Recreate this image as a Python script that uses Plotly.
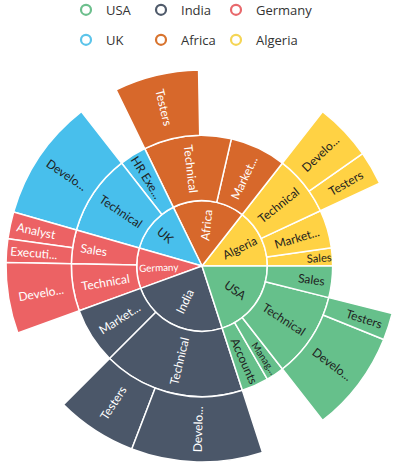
import plotly.graph_objects as go

# ---------------- data (clockwise order from 3 o'clock) ----------------
countries = ["USA", "India", "Germany", "UK", "Africa", "Algeria"]
country_values = [72, 88, 36, 48, 64, 52]

jobs = ["Sales", "Technical", "Manag...", "Accounts",
        "Technical", "Market...",
        "Technical", "Sales",
        "Technical", "HR Exe...",
        "Technical", "Market...",
        "Technical", "Market...", "Sales"]
job_country = ["USA"] * 4 + ["India"] * 2 + ["Germany"] * 2 + ["UK"] * 2 + ["Africa"] * 2 + ["Algeria"] * 3
job_values = [14, 38, 8, 12,
              63, 25,
              21, 15,
              36, 12,
              39, 25,
              27, 17, 8]

groups = ["Testers", "Develo...",
          "Develo...", "Testers",
          "Develo...",
          "Executi...", "Analyst",
          "Develo...",
          "Testers",
          "Develo...", "Testers"]
group_parent = ["USA/Technical", "USA/Technical",
                "India/Technical", "India/Technical",
                "Germany/Technical",
                "Germany/Sales", "Germany/Sales",
                "UK/Technical",
                "Africa/Technical",
                "Algeria/Technical", "Algeria/Technical"]
group_values = [8, 30,
                39, 24,
                21,
                7, 8,
                36,
                25,
                17, 10]

# ---------------- styles ----------------
fill = {"USA": "#66C08B", "India": "#4B5769", "Germany": "#EC6264",
        "UK": "#48BFEC", "Africa": "#D7682B", "Algeria": "#FFD244"}
legend_col = {"USA": "#6DBF8D", "India": "#505B6B", "Germany": "#E8696C",
              "UK": "#5CC4EA", "Africa": "#D8742F", "Algeria": "#F5D555"}
text_col = {"USA": "#1E1E1E", "India": "#FFFFFF", "Germany": "#FFFFFF",
            "UK": "#1E1E1E", "Africa": "#FFFFFF", "Algeria": "#1E1E1E"}

# nodes in clockwise order
nodes = []  # (id, label, parent, value, country)
for c, v in zip(countries, country_values):
    nodes.append((c, c, "", v, c))
    for j, jc, jv in zip(jobs, job_country, job_values):
        if jc != c:
            continue
        jid = c + "/" + j
        nodes.append((jid, j, c, jv, c))
        for g, gp, gv in zip(groups, group_parent, group_values):
            if gp == jid:
                nodes.append((jid + "/" + g, g, jid, gv, c))

# plotly sunburst runs counterclockwise -> reverse sibling order
nodes = nodes[::-1]
# unfilled remainder of a parent lies at its clockwise end = counterclockwise start
fillers = []
for nid, lab, par, val, c in nodes:
    kids = sum(n[3] for n in nodes if n[2] == nid)
    if kids and kids < val:
        fillers.append((nid + "/gap", "", nid, val - kids, None))
nodes = fillers + nodes

ids = [n[0] for n in nodes]
labels = [n[1] for n in nodes]
parents = [n[2] for n in nodes]
values = [n[3] for n in nodes]
colors = [fill[n[4]] if n[4] else "rgba(0,0,0,0)" for n in nodes]
tcolors = [text_col[n[4]] if n[4] else "rgba(0,0,0,0)" for n in nodes]
lwidths = [1.5 if n[4] else 0 for n in nodes]

fig = go.Figure()
fig.add_trace(go.Sunburst(
    ids=ids, labels=labels, parents=parents, values=values,
    branchvalues="total", sort=False, rotation=0,
    marker=dict(colors=colors, line=dict(color="white", width=lwidths)),
    leaf=dict(opacity=1),
    insidetextorientation="radial",
    insidetextfont=dict(color=tcolors, size=12, family="Lato"),
    hoverinfo="label+value",
    domain=dict(x=[0.015, 0.995], y=[0.0149, 0.8507]),
))

for i, c in enumerate(countries):
    fig.add_trace(go.Scatter(
        x=[None], y=[None], mode="markers", name=c,
        marker=dict(symbol="circle-open", size=10, color=legend_col[c], line=dict(width=2.2)),
        legend="legend" if i < 3 else "legend2", showlegend=True,
    ))
for lg in ["legend", "legend2"]:
    fig.add_trace(go.Scatter(
        x=[None], y=[None], mode="markers", name=" ",
        marker=dict(size=1, color="rgba(0,0,0,0)"),
        legend=lg, showlegend=True, hoverinfo="skip",
    ))

leg = dict(orientation="h", xanchor="left", yanchor="top", entrywidth=30,
           font=dict(family="Open Sans", size=13, color="#333333"),
           bgcolor="rgba(0,0,0,0)", itemwidth=30)
fig.update_layout(
    width=400, height=469, margin=dict(l=0, r=0, t=0, b=0, autoexpand=False),
    paper_bgcolor="white", plot_bgcolor="white",
    xaxis=dict(visible=False), yaxis=dict(visible=False),
    legend=dict(leg, x=0.165, y=1.011),
    legend2=dict(leg, x=0.165, y=0.947),
)
fig.write_html("out.html")
